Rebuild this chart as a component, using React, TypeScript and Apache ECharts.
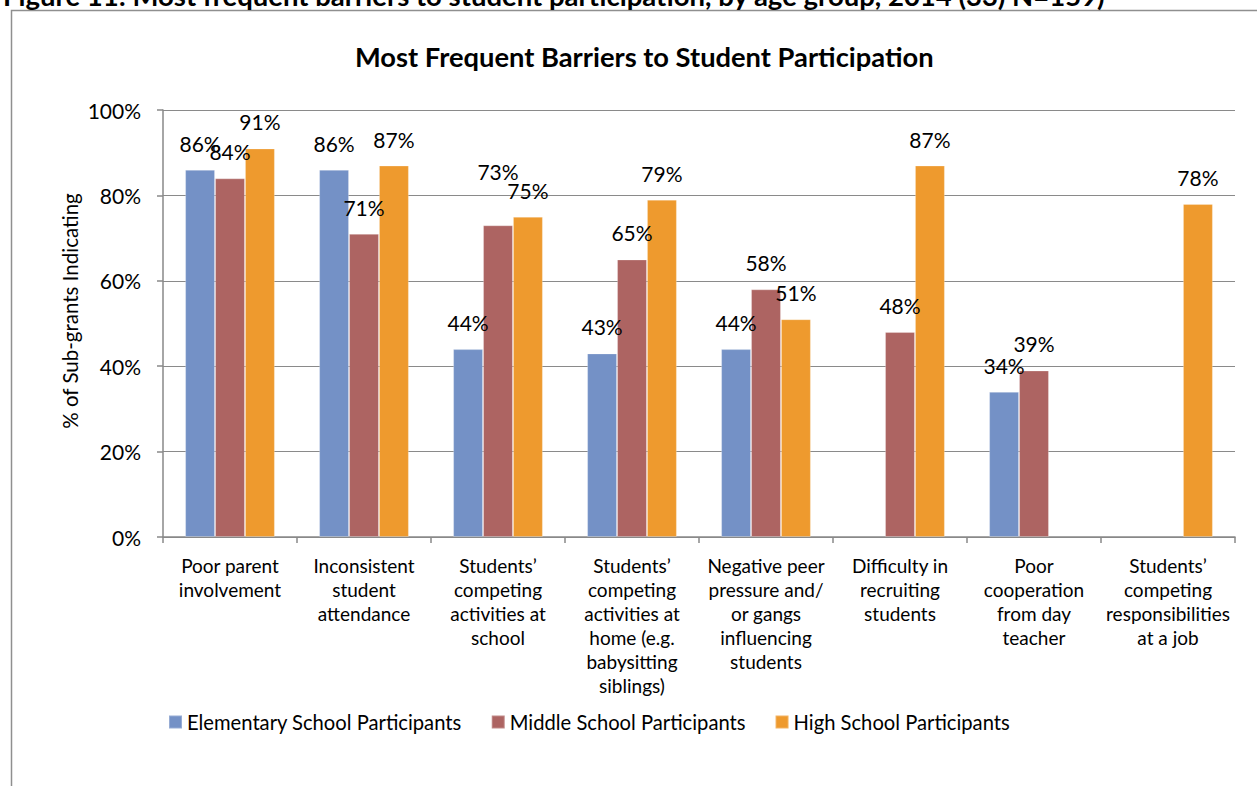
import React, { useEffect, useRef } from "react";
import * as echarts from "echarts";

const categories = [
  "Poor parent\ninvolvement",
  "Inconsistent\nstudent\nattendance",
  "Students’\ncompeting\nactivities at\nschool",
  "Students’\ncompeting\nactivities at\nhome (e.g.\nbabysitting\nsiblings)",
  "Negative peer\npressure and/\nor gangs\ninfluencing\nstudents",
  "Difficulty in\nrecruiting\nstudents",
  "Poor\ncooperation\nfrom day\nteacher",
  "Students’\ncompeting\nresponsibilities\nat a job",
];

const elementary = [86, 86, 44, 43, 44, null, 34, null];
const middle = [84, 71, 73, 65, 58, 48, 39, null];
const high = [91, 87, 75, 79, 51, 87, null, 78];

const seriesNames = [
  "Elementary School Participants",
  "Middle School Participants",
  "High School Participants",
];
const colors = ["#7491C6", "#AD6462", "#EE9A2E"];

const yTicks = [0, 20, 40, 60, 80, 100];

const chartTitle = "Most Frequent Barriers to Student Participation";
const caption =
  "Figure 11: Most frequent barriers to student participation, by age group, 2014 (33) N=159)";
const yName = "% of Sub-grants Indicating";

const FONT = "Lato, 'Open Sans', sans-serif";

export default function App() {
  const ref = useRef<HTMLDivElement>(null);
  useEffect(() => {
    document.body.style.margin = "0";
    if (!ref.current) return;
    const chart = echarts.init(ref.current, undefined, { renderer: "svg" });

    const mk = (vals: (number | null)[], si: number) =>
      vals.map((v, i) => {
        // Excel nudged the middle-school label in category 3 upward to avoid overlap
        if (si === 1 && i === 2) {
          return { value: v, label: { offset: [0, -27] } };
        }
        return v;
      });

    const allData = [elementary, middle, high];

    chart.setOption({
      animation: false,
      backgroundColor: "#ffffff",
      textStyle: { fontFamily: FONT },
      title: {
        text: chartTitle,
        left: 350,
        top: 38,
        textStyle: { fontFamily: FONT, fontSize: 27.3, fontWeight: "bold", color: "#000" },
      },
      grid: { left: 163, right: 22, top: 110, bottom: 249, containLabel: false },
      legend: {
        bottom: 54,
        left: 168,
        padding: 0,
        itemWidth: 13,
        itemHeight: 13,
        itemGap: 29,
        icon: "rect",
        textStyle: { fontFamily: FONT, fontSize: 20.2, color: "#000" },
        data: seriesNames,
      },
      xAxis: {
        type: "category",
        data: categories,
        axisLine: { lineStyle: { color: "#888", width: 1.5 } },
        axisTick: { show: true, length: 6, lineStyle: { color: "#888", width: 1.5 } },
        axisLabel: {
          interval: 0,
          margin: 16,
          fontFamily: FONT,
          fontSize: 19,
          lineHeight: 24,
          color: "#000",
          align: "center",
        },
      },
      yAxis: {
        type: "value",
        min: 0,
        max: 100,
        interval: 20,
        axisLine: { show: true, lineStyle: { color: "#888", width: 1.5 } },
        axisTick: { show: true, length: 6, lineStyle: { color: "#888", width: 1.5 } },
        axisLabel: {
          margin: 22,
          fontFamily: FONT,
          fontSize: 21,
          color: "#000",
          formatter: (v: number) => (yTicks.includes(v) ? v + "%" : ""),
        },
        splitLine: { show: true, lineStyle: { color: "#8a8a8a", width: 1.2 } },
      },
      series: allData.map((d, si) => ({
        name: seriesNames[si],
        type: "bar",
        data: mk(d, si),
        barGap: "0%",
        barCategoryGap: "33%",
        itemStyle: { color: colors[si], borderColor: "rgba(255,255,255,0.25)", borderWidth: 1 },
        label: {
          show: true,
          position: "top",
          distance: 16,
          fontFamily: FONT,
          fontSize: 21,
          color: "#000",
          formatter: (p: any) => (p.value == null ? "" : p.value + "%"),
        },
      })),
      graphic: [
        {
          type: "rect",
          shape: { x: 11.5, y: 10.5, width: 1300, height: 900 },
          style: { fill: "none", stroke: "#8f8f8f", lineWidth: 1.5 },
          silent: true,
          z: -1,
        },
        {
          type: "text",
          x: 3,
          y: -19,
          style: {
            text: caption,
            fontFamily: FONT,
            fontSize: 27.5,
            fontWeight: "bold",
            fill: "#000",
          },
        },
        {
          type: "text",
          x: 70,
          y: 311,
          rotation: Math.PI / 2,
          style: {
            text: yName,
            fontFamily: FONT,
            fontSize: 20.5,
            fill: "#000",
            align: "center",
            verticalAlign: "middle",
          },
        },
      ],
    });
    return () => chart.dispose();
  }, []);
  return <div ref={ref} style={{ width: 1257, height: 786 }} />;
}
